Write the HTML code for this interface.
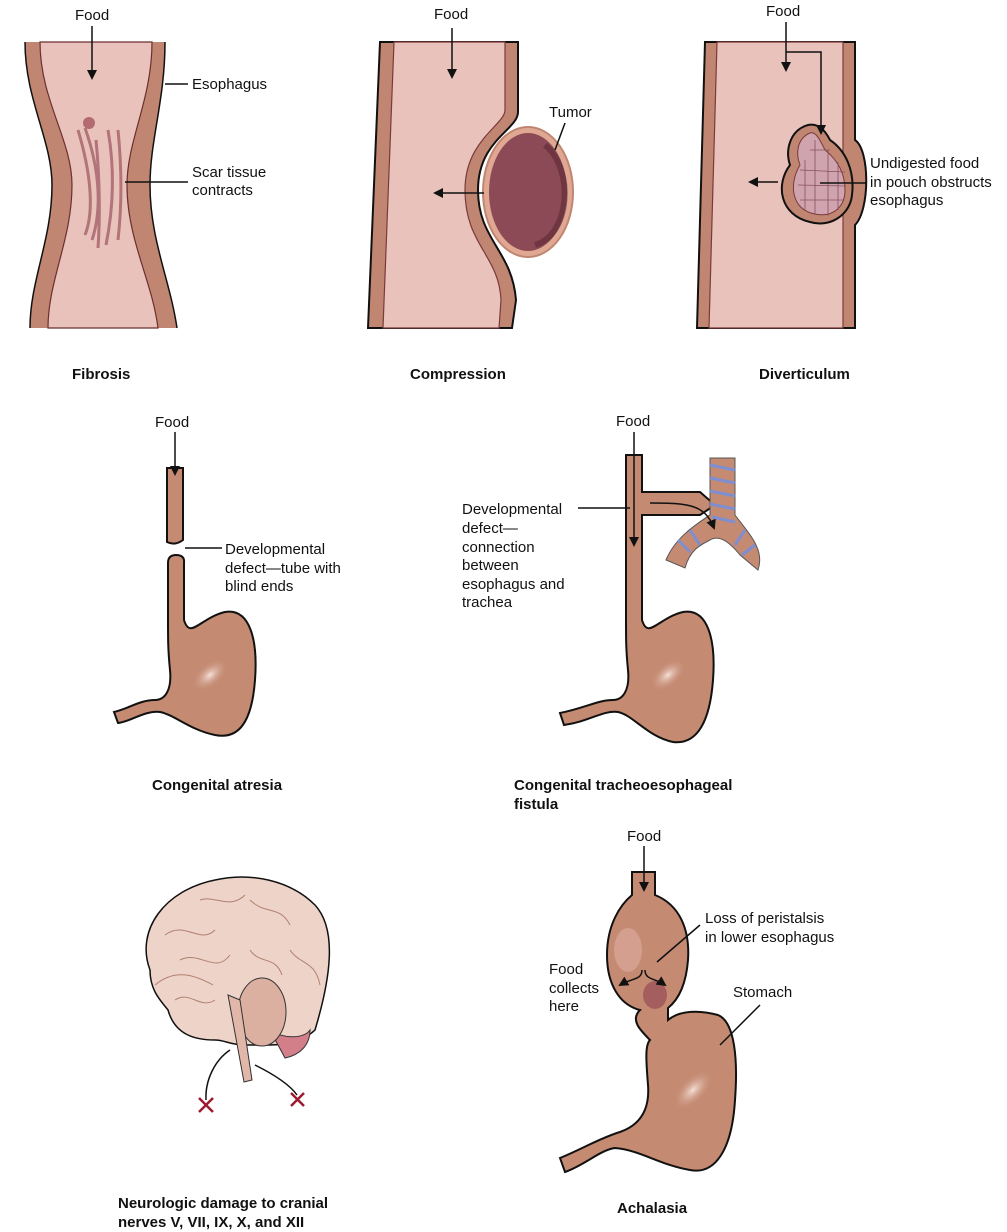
<!DOCTYPE html>
<html><head><meta charset="utf-8"><style>
html,body{margin:0;padding:0;background:#fff;}
svg{display:block;font-family:"Liberation Sans",sans-serif;}
.t{font-size:15px;fill:#111;}
.b{font-size:15px;font-weight:bold;fill:#111;}
.ln{stroke:#111;stroke-width:1.5;fill:none;}
.wall{fill:#c08672;stroke:#111;stroke-width:2;}
.inner{fill:#e8c2bb;stroke:#7a3a3a;stroke-width:1.2;}
.st{fill:#c48a72;stroke:#111;stroke-width:2;}
</style></head><body>
<svg width="1007" height="1232" viewBox="0 0 1007 1232">
<defs>
<marker id="a" markerWidth="10" markerHeight="10" refX="8" refY="5" orient="auto" markerUnits="userSpaceOnUse"><path d="M0,0 L10,5 L0,10 Z" fill="#111"/></marker>
<radialGradient id="hl" cx="0.5" cy="0.5" r="0.5"><stop offset="0" stop-color="#f6e0d8"/><stop offset="1" stop-color="#c48a72" stop-opacity="0"/></radialGradient>
</defs>

<!-- Fibrosis -->
<path d="M25,42 C25,100 52,140 52,185 C52,240 30,280 30,328 L177,328 C170,280 150,240 150,185 C150,140 165,100 165,42 Z" fill="#c08672"/>
<path d="M40,42 C40,100 72,140 72,185 C72,240 48,280 48,328 L158,328 C152,280 127,240 127,185 C127,140 152,100 152,42 Z" fill="#e8c2bb" stroke="#6b2f30" stroke-width="1.2"/>
<path d="M25,42 C25,100 52,140 52,185 C52,240 30,280 30,328" class="ln" stroke-width="2"/>
<path d="M165,42 C165,100 150,140 150,185 C150,240 170,280 177,328" class="ln" stroke-width="2"/>
<g stroke="#a5606a" stroke-width="3" fill="none" opacity="0.8">
<path d="M78,130 C90,170 95,210 85,235"/><path d="M85,128 C100,170 102,210 92,240"/>
<path d="M96,140 C100,180 100,220 98,248"/><path d="M108,130 C115,170 113,210 106,245"/>
<path d="M118,130 C122,170 122,205 118,240"/>
</g>
<circle cx="89" cy="123" r="6" fill="#b46a72"/>
<line class="ln" x1="92" y1="26" x2="92" y2="78" marker-end="url(#a)"/>
<text class="t" x="75" y="20">Food</text>
<line class="ln" x1="165" y1="84" x2="188" y2="84"/>
<text class="t" x="192" y="89">Esophagus</text>
<line class="ln" x1="125" y1="182" x2="188" y2="182"/>
<text class="t" x="192" y="177">Scar tissue</text><text class="t" x="192" y="195">contracts</text>
<text class="b" x="72" y="379">Fibrosis</text>

<!-- Compression -->
<path class="wall" d="M380,42 L518,42 L518,112 C518,130 478,140 478,190 C478,240 512,250 516,300 L512,328 L368,328 Z"/>
<path class="inner" d="M394,42 L505,42 L505,110 C505,125 465,140 465,190 C465,245 499,255 501,300 L499,328 L383,328 Z" stroke="#6b2f30"/>
<ellipse cx="528" cy="192" rx="45" ry="65" fill="#e0a892" stroke="#c08672" stroke-width="2"/>
<ellipse cx="528" cy="192" rx="39" ry="59" fill="#8b4a55"/>
<path d="M545,145 C575,170 570,235 535,245" stroke="#5e2a35" stroke-width="6" fill="none" opacity="0.6"/>
<line class="ln" x1="452" y1="28" x2="452" y2="77" marker-end="url(#a)"/>
<text class="t" x="434" y="19">Food</text>
<line class="ln" x1="484" y1="193" x2="435" y2="193" marker-end="url(#a)"/>
<line class="ln" x1="555" y1="150" x2="565" y2="123"/>
<text class="t" x="549" y="117">Tumor</text>
<text class="b" x="410" y="379">Compression</text>

<!-- Diverticulum -->
<path class="wall" d="M705,42 L855,42 L855,140 C870,150 870,210 855,225 L855,328 L697,328 Z"/>
<path class="inner" d="M717,42 L843,42 L843,328 L709,328 Z" stroke="#6b2f30"/>
<path class="wall" d="M808,125 C790,130 785,150 790,165 C775,185 780,215 810,222 C830,228 850,215 852,195 C855,170 845,150 830,140 C825,130 818,123 808,125 Z"/>
<path d="M810,133 C798,138 795,152 800,165 C788,185 792,210 815,214 C835,218 845,205 845,190 C845,170 835,158 825,150 C820,140 816,131 810,133 Z" fill="#cfa4ae" stroke="#7a3a3a"/>
<g stroke="#8a5060" stroke-width="0.8" fill="none">
<path d="M800,170 L845,172 M798,185 L846,186 M800,200 L843,200 M810,150 L830,150 M815,140 L815,214 M828,150 L828,216 M805,160 L805,210 M838,162 L838,210"/>
</g>
<line class="ln" x1="786" y1="22" x2="786" y2="70" marker-end="url(#a)"/>
<polyline class="ln" points="786,52 821,52 821,133" marker-end="url(#a)"/>
<text class="t" x="766" y="16">Food</text>
<line class="ln" x1="778" y1="182" x2="750" y2="182" marker-end="url(#a)"/>
<line class="ln" x1="820" y1="183" x2="866" y2="183"/>
<text class="t" x="870" y="168">Undigested food</text><text class="t" x="870" y="187">in pouch obstructs</text><text class="t" x="870" y="205">esophagus</text>
<text class="b" x="759" y="379">Diverticulum</text>

<!-- Congenital atresia -->
<path class="st" d="M167,468 L183,468 L183,540 Q175,546 167,542 Z"/>
<path class="st" d="M168,563 Q168,555 176,555 Q185,555 184,563 L184,620 C190,640 200,618 225,612 C250,608 258,640 255,680 C252,720 240,740 215,735 C190,730 175,715 160,712 C145,710 130,722 118,723 L114,712 C130,708 140,700 155,700 C165,700 172,690 170,670 C168,650 168,640 168,620 Z"/>
<ellipse cx="210" cy="675" rx="22" ry="12" transform="rotate(-40 210 675)" fill="url(#hl)"/>
<line class="ln" x1="175" y1="432" x2="175" y2="474" marker-end="url(#a)"/>
<text class="t" x="155" y="427">Food</text>
<line class="ln" x1="185" y1="548" x2="222" y2="548"/>
<text class="t" x="225" y="554">Developmental</text><text class="t" x="225" y="573">defect—tube with</text><text class="t" x="225" y="591">blind ends</text>
<text class="b" x="152" y="790">Congenital atresia</text>

<!-- Fistula -->
<path class="st" d="M626,455 L642,455 L642,492 L700,492 L715,505 L700,515 L642,515 L642,620 C648,640 658,618 683,612 C708,608 716,640 713,680 C710,720 698,745 673,742 C648,737 633,715 618,712 C603,710 588,722 564,725 L560,713 C585,708 598,700 613,700 C623,700 630,690 628,670 C626,650 626,640 626,620 Z"/>
<ellipse cx="668" cy="675" rx="22" ry="12" transform="rotate(-40 668 675)" fill="url(#hl)"/>
<path d="M710,458 L735,458 L735,515 C750,535 765,550 758,570 L740,555 C728,540 718,535 710,540 C700,545 690,550 685,568 L666,560 C675,538 695,525 710,515 Z" fill="#c48a72" stroke="#555" stroke-width="1"/>
<g stroke="#7f8ed0" stroke-width="3" fill="none">
<path d="M710,465 L735,470 M710,478 L735,483 M710,491 L735,496 M710,504 L735,509 M712,517 L735,522 M690,530 L700,545 M678,540 L690,552 M745,530 L735,545 M755,545 L742,555"/>
</g>
<line class="ln" x1="634" y1="432" x2="634" y2="545" marker-end="url(#a)"/>
<path class="ln" d="M650,503 C690,503 705,505 714,528" marker-end="url(#a)"/>
<text class="t" x="616" y="426">Food</text>
<line class="ln" x1="578" y1="508" x2="630" y2="508"/>
<text class="t" x="462" y="514">Developmental</text><text class="t" x="462" y="533">defect—</text><text class="t" x="462" y="552">connection</text><text class="t" x="462" y="570">between</text><text class="t" x="462" y="589">esophagus and</text><text class="t" x="462" y="607">trachea</text>
<text class="b" x="514" y="790">Congenital tracheoesophageal</text><text class="b" x="514" y="809">fistula</text>

<!-- Brain -->
<path d="M150,970 C135,930 165,890 215,880 C250,872 290,880 315,905 C338,930 330,980 315,1030 C305,1040 285,1045 270,1045 L245,1045 C230,1045 225,1040 215,1040 C195,1040 175,1035 168,1010 C160,1000 150,990 150,970 Z" fill="#eed3c8" stroke="#111" stroke-width="1.5"/>
<path d="M270,1030 C285,1040 305,1038 310,1030 C310,1045 300,1055 285,1058 Z" fill="#d27f8a" stroke="#333"/>
<ellipse cx="262" cy="1012" rx="24" ry="34" fill="#dcb0a0" stroke="#333"/>
<path d="M228,995 L240,1000 L252,1080 L244,1082 Z" fill="#e0b7a8" stroke="#333"/>
<g stroke="#b08070" stroke-width="1" fill="none">
<path d="M165,935 C185,920 200,945 215,930 M180,960 C200,950 215,975 230,955 M250,900 C265,915 280,905 290,925 M290,950 C300,965 315,960 320,985 M200,900 C215,895 230,910 245,895 M250,950 C260,965 275,955 282,975 M175,1000 C190,990 200,1010 215,1000"/>
<path d="M155,985 C175,968 195,975 213,985"/>
</g>
<path class="ln" d="M230,1050 C215,1060 205,1080 206,1100"/>
<path class="ln" d="M255,1065 C275,1075 290,1085 297,1095"/>
<g stroke="#9b1b30" stroke-width="2.5"><path d="M199,1098 L213,1112 M213,1098 L199,1112"/><path d="M291,1093 L304,1106 M304,1093 L291,1106"/></g>
<text class="b" x="118" y="1208">Neurologic damage to cranial</text><text class="b" x="118" y="1227">nerves V, VII, IX, X, and XII</text>

<!-- Achalasia -->
<path class="st" d="M632,872 L655,872 L655,895 C680,905 690,930 688,960 C686,985 678,1000 668,1008 L668,1020 C680,1010 700,1010 718,1015 C735,1022 738,1060 735,1100 C732,1150 715,1175 690,1170 C660,1165 640,1150 615,1148 C600,1150 585,1165 565,1172 L560,1158 C580,1150 600,1138 620,1132 C640,1125 650,1110 648,1085 C646,1060 645,1045 650,1040 C640,1030 630,1020 640,1010 C620,1005 607,985 607,955 C607,925 620,905 632,895 Z"/>
<ellipse cx="628" cy="950" rx="14" ry="22" fill="#dca89a" opacity="0.7"/>
<ellipse cx="655" cy="995" rx="12" ry="14" fill="#8c3b4e" opacity="0.55"/>
<ellipse cx="693" cy="1090" rx="26" ry="13" transform="rotate(-45 693 1090)" fill="url(#hl)"/>
<line class="ln" x1="644" y1="846" x2="644" y2="890" marker-end="url(#a)"/>
<text class="t" x="627" y="841">Food</text>
<path class="ln" d="M642,970 C642,980 632,978 620,985" marker-end="url(#a)"/>
<path class="ln" d="M645,970 C645,980 655,978 665,985" marker-end="url(#a)"/>
<line class="ln" x1="657" y1="962" x2="700" y2="925"/>
<text class="t" x="705" y="923">Loss of peristalsis</text><text class="t" x="705" y="942">in lower esophagus</text>
<text class="t" x="549" y="974">Food</text><text class="t" x="549" y="993">collects</text><text class="t" x="549" y="1011">here</text>
<line class="ln" x1="720" y1="1045" x2="760" y2="1005"/>
<text class="t" x="733" y="997">Stomach</text>
<text class="b" x="617" y="1213">Achalasia</text>
</svg>
</body></html>
